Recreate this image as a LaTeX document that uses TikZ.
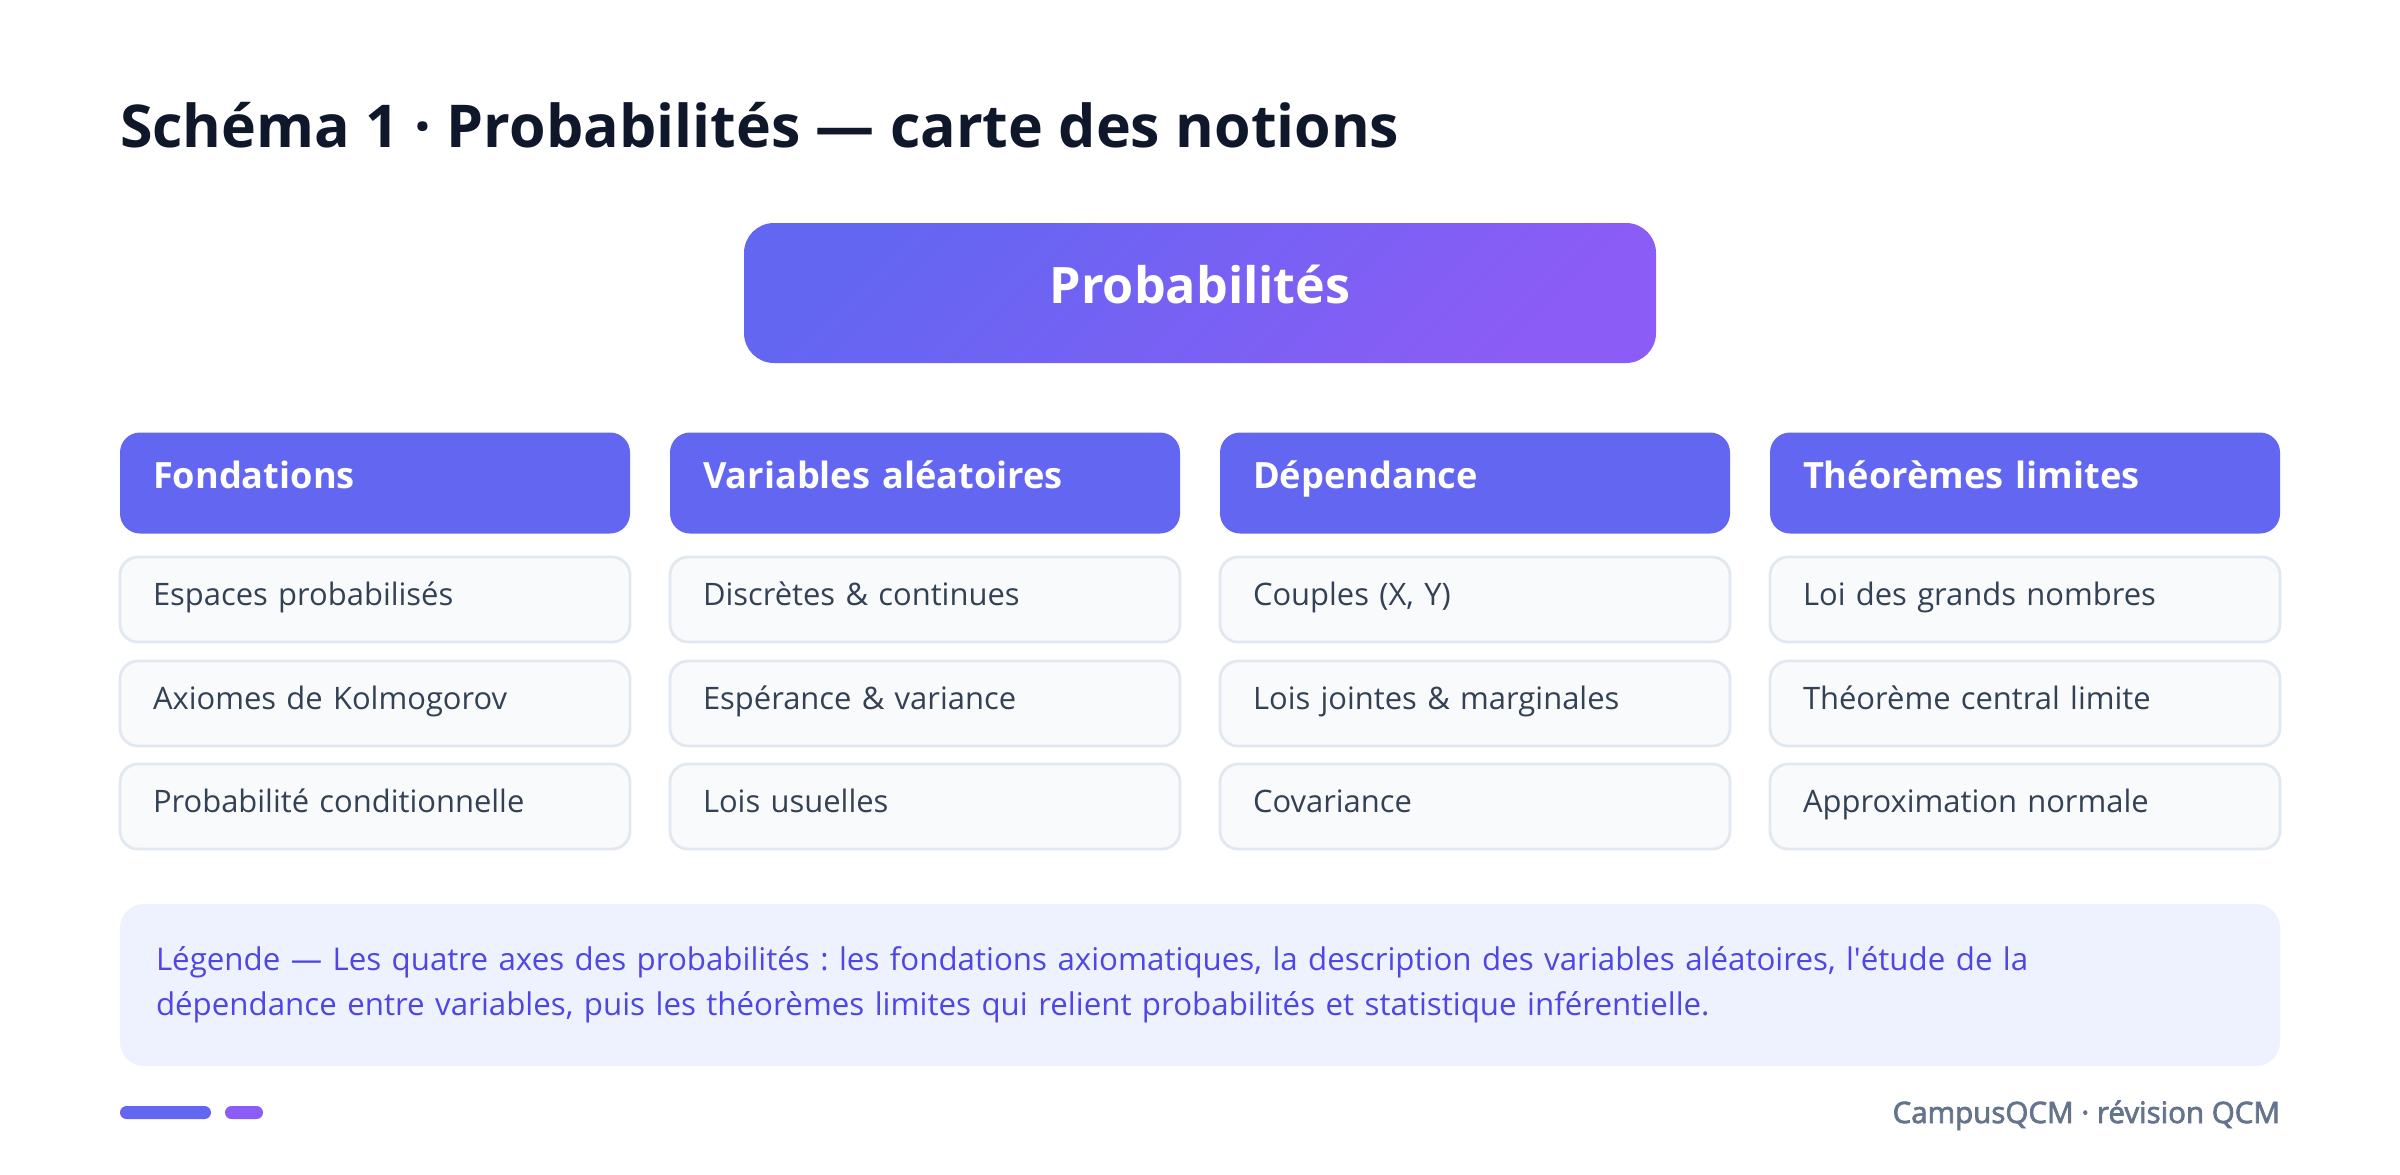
\documentclass[tikz,border=0pt]{standalone}
\usepackage{fontspec}
\setmainfont{Open Sans}
\newfontfamily\piedfont{Open Sans}[FakeBold=2.5]
\usepackage{tikz}
\frenchspacing

\definecolor{encre}{HTML}{0F172A}
\definecolor{bleuqcm}{HTML}{6366F1}
\definecolor{mauveqcm}{HTML}{8B5CF6}
\definecolor{fondcase}{HTML}{F8FAFC}
\definecolor{bordcase}{HTML}{E2E8F0}
\definecolor{textecase}{HTML}{334155}
\definecolor{fondlegende}{HTML}{EEF2FF}
\definecolor{textelegende}{HTML}{4F46E5}
\definecolor{grisqcm}{HTML}{64748B}

\begin{document}
\begin{tikzpicture}[every node/.style={inner sep=0pt, outer sep=0pt},
  titre/.style={text=encre, font=\bfseries\fontsize{16.8}{20}\selectfont},
  racine/.style={rectangle, rounded corners=.3cm, top color=bleuqcm, bottom color=mauveqcm, shading angle=45,
    minimum width=9.12cm, minimum height=1.4cm, text=white, text height=.36cm, text depth=.16cm,
    font=\bfseries\fontsize{14.3}{17}\selectfont},
  entete/.style={rectangle, rounded corners=.2cm, fill=bleuqcm, text=white,
    minimum width=5.1cm, minimum height=1.01cm, text width=4.44cm, align=left,
    text height=.27cm, text depth=.16cm, font=\bfseries\fontsize{10.3}{13}\selectfont},
  notion/.style={rectangle, rounded corners=.18cm, fill=fondcase, draw=bordcase, line width=.8pt,
    minimum width=5.1cm, minimum height=.85cm, text width=4.44cm, align=left, text=textecase,
    text height=.22cm, text depth=.11cm, font=\fontsize{8.8}{11}\selectfont},
  legende/.style={rectangle, rounded corners=.24cm, fill=fondlegende, text=textelegende,
    minimum width=21.6cm, minimum height=1.62cm, text width=20.88cm, align=left,
    font=\fontsize{8.9}{12.8}\selectfont}]
  \useasboundingbox [fill=white] (0cm, 0cm) rectangle (24cm, -11.74cm);

  \node [titre, anchor=base west] (titre) at (1.2cm, -1.47cm) {Schéma 1 · Probabilités — carte des notions};
  \node [racine] (proba) at (12cm, -2.93cm) {Probabilités};

  % colonnes
  \node [entete] (fond) at (3.75cm, -4.83cm) {Fondations};
  \node [entete] (var) at (9.25cm, -4.83cm) {Variables aléatoires};
  \node [entete] (dep) at (14.75cm, -4.83cm) {Dépendance};
  \node [entete] (lim) at (20.25cm, -4.83cm) {Théorèmes limites};

  \node [notion] (fond1) at (3.75cm, -5.995cm) {Espaces probabilisés};
  \node [notion] (fond2) at (3.75cm, -7.035cm) {Axiomes de Kolmogorov};
  \node [notion] (fond3) at (3.75cm, -8.065cm) {Probabilité conditionnelle};
  \node [notion] (var1) at (9.25cm, -5.995cm) {Discrètes \& continues};
  \node [notion] (var2) at (9.25cm, -7.035cm) {Espérance \& variance};
  \node [notion] (var3) at (9.25cm, -8.065cm) {Lois usuelles};
  \node [notion] (dep1) at (14.75cm, -5.995cm) {Couples (X, Y)};
  \node [notion] (dep2) at (14.75cm, -7.035cm) {Lois jointes \& marginales};
  \node [notion] (dep3) at (14.75cm, -8.065cm) {Covariance};
  \node [notion] (lim1) at (20.25cm, -5.995cm) {Loi des grands nombres};
  \node [notion] (lim2) at (20.25cm, -7.035cm) {Théorème central limite};
  \node [notion] (lim3) at (20.25cm, -8.065cm) {Approximation normale};

  \node [legende] (leg) at (12cm, -9.85cm) {Légende — Les quatre axes des probabilités : les fondations axiomatiques, la description des variables aléatoires, l\textquotesingle étude de la\\dépendance entre variables, puis les théorèmes limites qui relient probabilités et statistique inférentielle.};

  % pied de page
  \fill [bleuqcm, rounded corners=.065cm] (1.2cm, -11.06cm) rectangle (2.11cm, -11.19cm);
  \fill [mauveqcm, rounded corners=.065cm] (2.25cm, -11.06cm) rectangle (2.63cm, -11.19cm);
  \node [anchor=base east, text=grisqcm, font=\piedfont\fontsize{8.4}{11}\selectfont] (pied) at (22.8cm, -11.23cm) {CampusQCM · révision QCM};
\end{tikzpicture}
\end{document}
